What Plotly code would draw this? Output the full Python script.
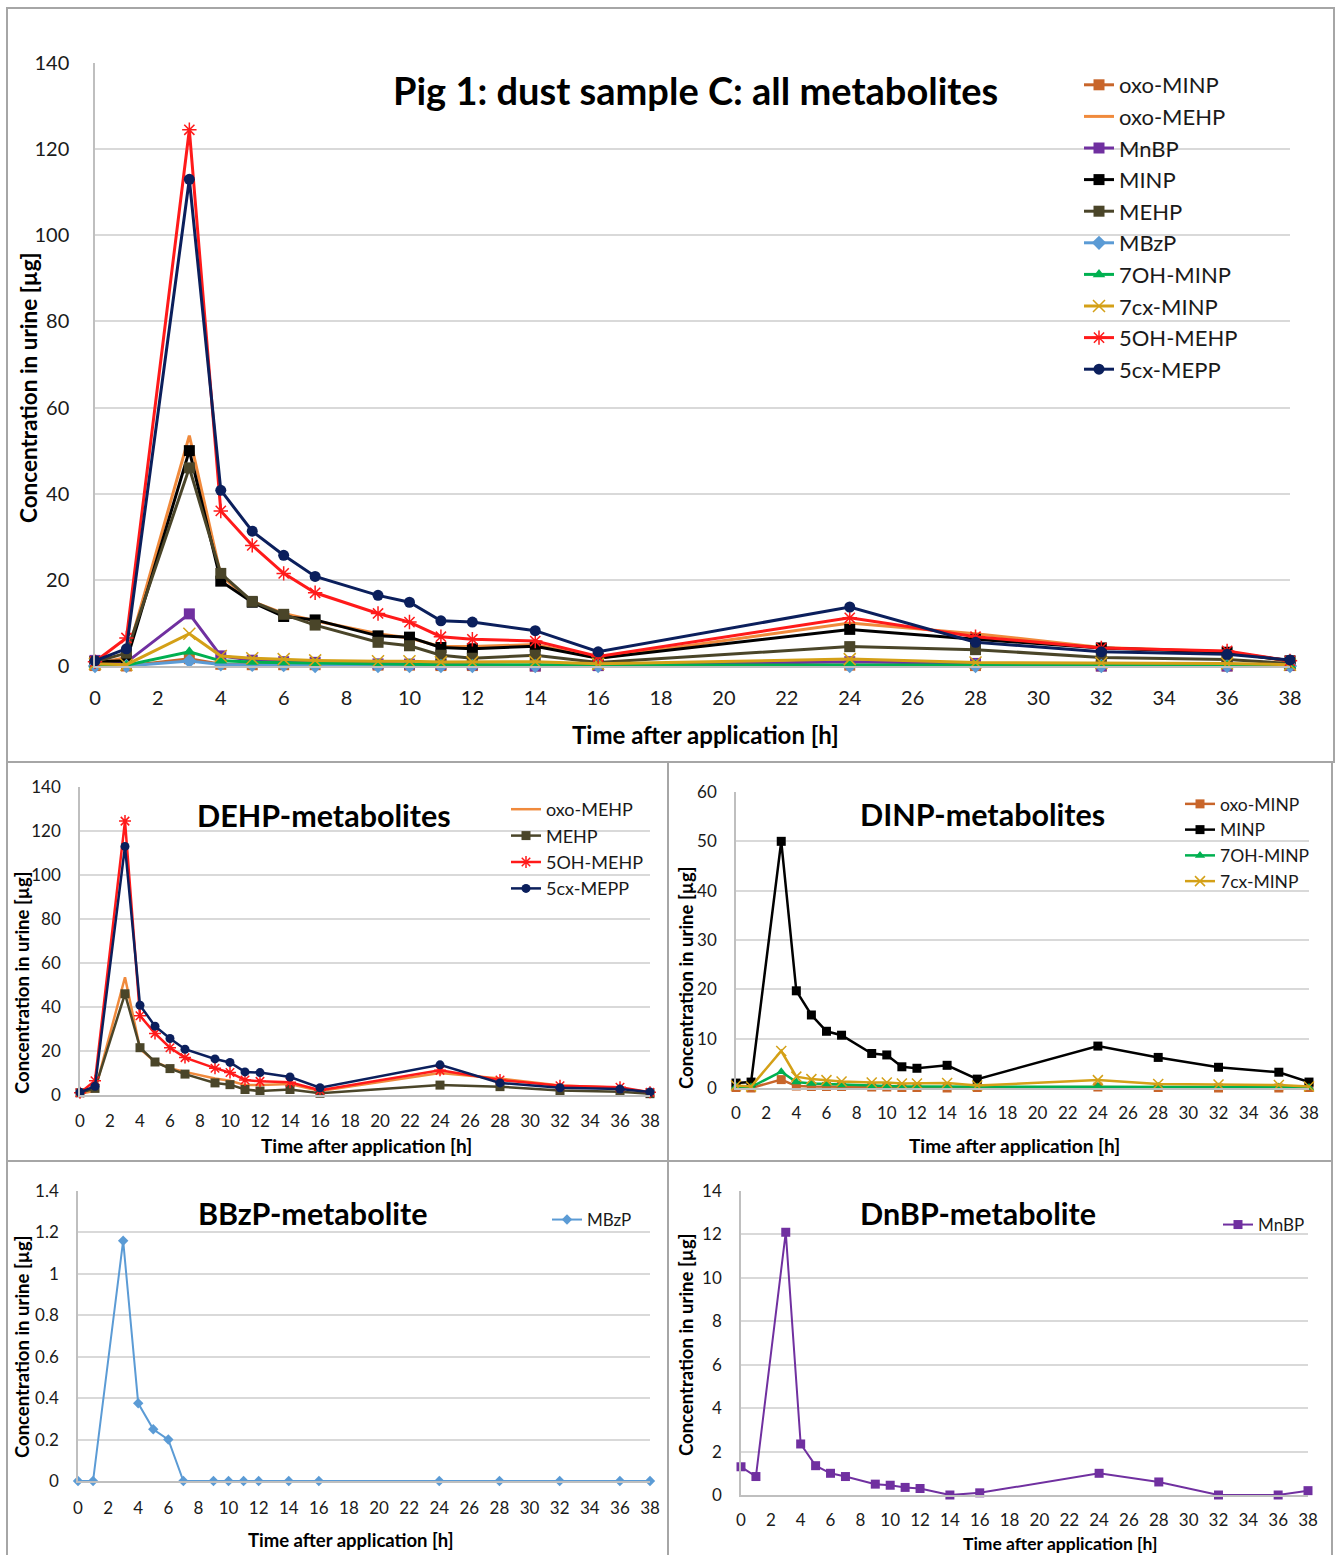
import plotly.graph_objects as go

W, H = 1341, 1555

hours = [0, 1, 3, 4, 5, 6, 7, 9, 10, 11, 12, 14, 16, 24, 28, 32, 36, 38]

oxo_minp = [0.1, 0.0, 1.7, 0.4, 0.3, 0.3, 0.3, 0.2, 0.2, 0.1, 0.1, 0.0, 0.1, 0.2, 0.1, 0.0, 0.0, 0.1]
oxo_mehp = [0.5, 2.0, 53.5, 21.0, 15.0, 12.2, 10.5, 7.5, 6.5, 4.5, 4.5, 5.0, 1.8, 10.0, 7.5, 4.3, 3.3, 1.0]
mnbp = [1.3, 0.85, 12.1, 2.35, 1.35, 1.0, 0.85, 0.5, 0.45, 0.35, 0.3, 0.0, 0.1, 1.0, 0.6, 0.0, 0.0, 0.2]
minp = [1.0, 1.2, 50.0, 19.7, 14.8, 11.5, 10.7, 7.0, 6.7, 4.3, 4.0, 4.6, 1.8, 8.5, 6.2, 4.2, 3.2, 1.2]
mehp = [1.0, 3.0, 46.0, 21.5, 15.0, 12.0, 9.5, 5.5, 4.7, 2.5, 1.8, 2.5, 0.8, 4.5, 3.8, 2.0, 1.5, 0.6]
mbzp = [0.0, 0.0, 1.16, 0.375, 0.25, 0.2, 0.0, 0.0, 0.0, 0.0, 0.0, 0.0, 0.0, 0.0, 0.0, 0.0, 0.0, 0.0]
oh7_minp = [0.3, 0.2, 3.3, 1.2, 0.9, 0.8, 0.6, 0.4, 0.4, 0.3, 0.3, 0.3, 0.2, 0.3, 0.3, 0.2, 0.2, 0.1]
cx7_minp = [0.5, 0.3, 7.5, 2.3, 1.8, 1.6, 1.3, 1.1, 1.1, 0.9, 0.9, 1.0, 0.5, 1.6, 0.8, 0.7, 0.6, 0.3]
oh5_mehp = [1.0, 6.5, 124.5, 36.0, 28.0, 21.5, 17.0, 12.2, 10.2, 6.8, 6.2, 5.8, 2.2, 11.2, 6.8, 4.2, 3.5, 1.2]
cx5_mepp = [1.2, 4.0, 113.0, 40.8, 31.3, 25.7, 20.8, 16.4, 14.8, 10.5, 10.2, 8.2, 3.3, 13.7, 5.5, 3.3, 2.7, 1.4]

x_ticks = list(range(0, 39, 2))

FONT = "Lato"
TXT = "#1a1a1a"

series = {
    "oxo-MINP": dict(y=oxo_minp, color="#C8652A", symbol="square"),
    "oxo-MEHP": dict(y=oxo_mehp, color="#F08A3C", symbol=None),
    "MnBP": dict(y=mnbp, color="#7030A0", symbol="square"),
    "MINP": dict(y=minp, color="#000000", symbol="square"),
    "MEHP": dict(y=mehp, color="#4A4529", symbol="square"),
    "MBzP": dict(y=mbzp, color="#5B9BD5", symbol="diamond"),
    "7OH-MINP": dict(y=oh7_minp, color="#00B050", symbol="triangle-up"),
    "7cx-MINP": dict(y=cx7_minp, color="#D4A017", symbol="x-thin-open"),
    "5OH-MEHP": dict(y=oh5_mehp, color="#FF1A1A", symbol="asterisk-open"),
    "5cx-MEPP": dict(y=cx5_mepp, color="#0B1F5C", symbol="circle"),
}


def px_x(p):
    return p / W


def px_y(p):
    return 1 - p / H


panels = [
    dict(ax="", x0=95, x1=1290, yt=63, yb=666, ymax=140, dtick=20,
         names=list(series.keys()), lw=3, ms=11, tick=20, tstand=(13, 20),
         legend="legend"),
    dict(ax="2", x0=80, x1=650, yt=787, yb=1095, ymax=140, dtick=20,
         names=["oxo-MEHP", "MEHP", "5OH-MEHP", "5cx-MEPP"], lw=2.5, ms=9,
         tick=17, tstand=(10, 14), legend="legend2"),
    dict(ax="3", x0=736, x1=1309, yt=792, yb=1088, ymax=60, dtick=10,
         names=["oxo-MINP", "MINP", "7OH-MINP", "7cx-MINP"], lw=2.5, ms=9,
         tick=17, tstand=(9, 14), legend="legend3"),
    dict(ax="4", x0=78, x1=650, yt=1191, yb=1481, ymax=1.4, dtick=0.2,
         names=["MBzP"], lw=2, ms=8, tick=17, tstand=(11, 14), legend="legend4"),
    dict(ax="5", x0=741, x1=1308, yt=1191, yb=1495, ymax=14, dtick=2,
         names=["MnBP"], lw=2, ms=9, tick=17, tstand=(9, 14), legend="legend5"),
]

fig = go.Figure()
layout = {}

for p in panels:
    xa = "x" + p["ax"]
    ya = "y" + p["ax"]
    for n in p["names"]:
        s = series[n]
        mode = "lines+markers" if s["symbol"] else "lines"
        marker = dict(color=s["color"], size=p["ms"])
        if s["symbol"]:
            marker["symbol"] = s["symbol"]
            if s["symbol"] in ("x-thin-open", "asterisk-open"):
                marker["line"] = dict(color=s["color"], width=1.5)
                marker["size"] = p["ms"] + 1
        fig.add_trace(go.Scatter(
            x=hours, y=s["y"], name=n, mode=mode, xaxis=xa, yaxis=ya,
            line=dict(color=s["color"], width=p["lw"]), marker=marker,
            cliponaxis=False, legend=p["legend"], showlegend=True,
        ))
    xkey = "xaxis" + p["ax"]
    ykey = "yaxis" + p["ax"]
    layout[xkey] = dict(
        domain=[px_x(p["x0"]), px_x(p["x1"])], range=[0, 38],
        anchor=ya, tickvals=x_ticks, showgrid=False, zeroline=False,
        showline=True, linecolor="#BFBFBF", linewidth=1.5,
        ticks="", ticklabelstandoff=p["tstand"][0],
        tickfont=dict(family=FONT, size=p["tick"], color=TXT), fixedrange=True,
    )
    layout[ykey] = dict(
        domain=[px_y(p["yb"]), px_y(p["yt"])], range=[0, p["ymax"]],
        anchor=xa, dtick=p["dtick"], tick0=0, showgrid=True,
        gridcolor="#D9D9D9", gridwidth=1.5, zeroline=False,
        showline=True, linecolor="#BFBFBF", linewidth=1.5,
        ticks="", ticklabelstandoff=p["tstand"][1],
        tickfont=dict(family=FONT, size=p["tick"], color=TXT), fixedrange=True,
    )


def leg(xp, yp, size):
    return dict(x=px_x(xp), y=px_y(yp), xanchor="left", yanchor="top",
                xref="paper", yref="paper", bgcolor="rgba(0,0,0,0)",
                font=dict(family=FONT, size=size, color=TXT), borderwidth=0,
                itemwidth=30)


layout["legend"] = leg(1079, 64, 22)
layout["legend2"] = leg(506, 791, 18)
layout["legend3"] = leg(1180, 786, 17.5)
layout["legend4"] = leg(547, 1202, 17)
layout["legend5"] = leg(1218, 1207, 17)

annotations = []


def ann(text, xp, yp, size, bold=True, angle=0):
    annotations.append(dict(
        text=f"<b>{text}</b>" if bold else text, x=px_x(xp), y=px_y(yp),
        xref="paper", yref="paper", showarrow=False, xanchor="center",
        yanchor="middle", textangle=angle,
        font=dict(family=FONT, size=size, color="#000000"),
    ))


ann("Pig 1: dust sample C: all metabolites", 695, 90, 38)
ann("DEHP-metabolites", 324, 815, 30.5)
ann("DINP-metabolites", 982, 814, 30.5)
ann("BBzP-metabolite", 313, 1213, 30.5)
ann("DnBP-metabolite", 978, 1213, 30.5)

ytitle = "Concentration in urine [µg]"
xtitle = "Time after application [h]"
ann(ytitle, 28, 388, 22.5, angle=-90)
ann(xtitle, 705, 735, 24)
ann(ytitle, 22, 983, 18.5, angle=-90)
ann(xtitle, 366, 1145, 19)
ann(ytitle, 686, 978, 18.5, angle=-90)
ann(xtitle, 1015, 1145, 19)
ann(ytitle, 22, 1347, 18.5, angle=-90)
ann(xtitle, 351, 1540, 18.5)
ann(ytitle, 686, 1345, 18.5, angle=-90)
ann(xtitle, 1060, 1543, 17.5)

shapes = []
for (a, b, c, d) in [(7, 8, 1334, 762), (7, 762, 668, 1161), (668, 762, 1332, 1161),
                     (7, 1161, 668, 1556), (668, 1161, 1332, 1556)]:
    shapes.append(dict(type="rect", xref="paper", yref="paper",
                       x0=px_x(a), x1=px_x(c), y0=px_y(d), y1=px_y(b),
                       line=dict(color="#A6A6A6", width=2), fillcolor="rgba(0,0,0,0)"))

fig.update_layout(
    width=W, height=H, margin=dict(l=0, r=0, t=0, b=0, autoexpand=False),
    paper_bgcolor="white", plot_bgcolor="white",
    annotations=annotations, shapes=shapes, hovermode=False,
    **layout,
)

fig.write_html("out.html", config={"displayModeBar": False})
